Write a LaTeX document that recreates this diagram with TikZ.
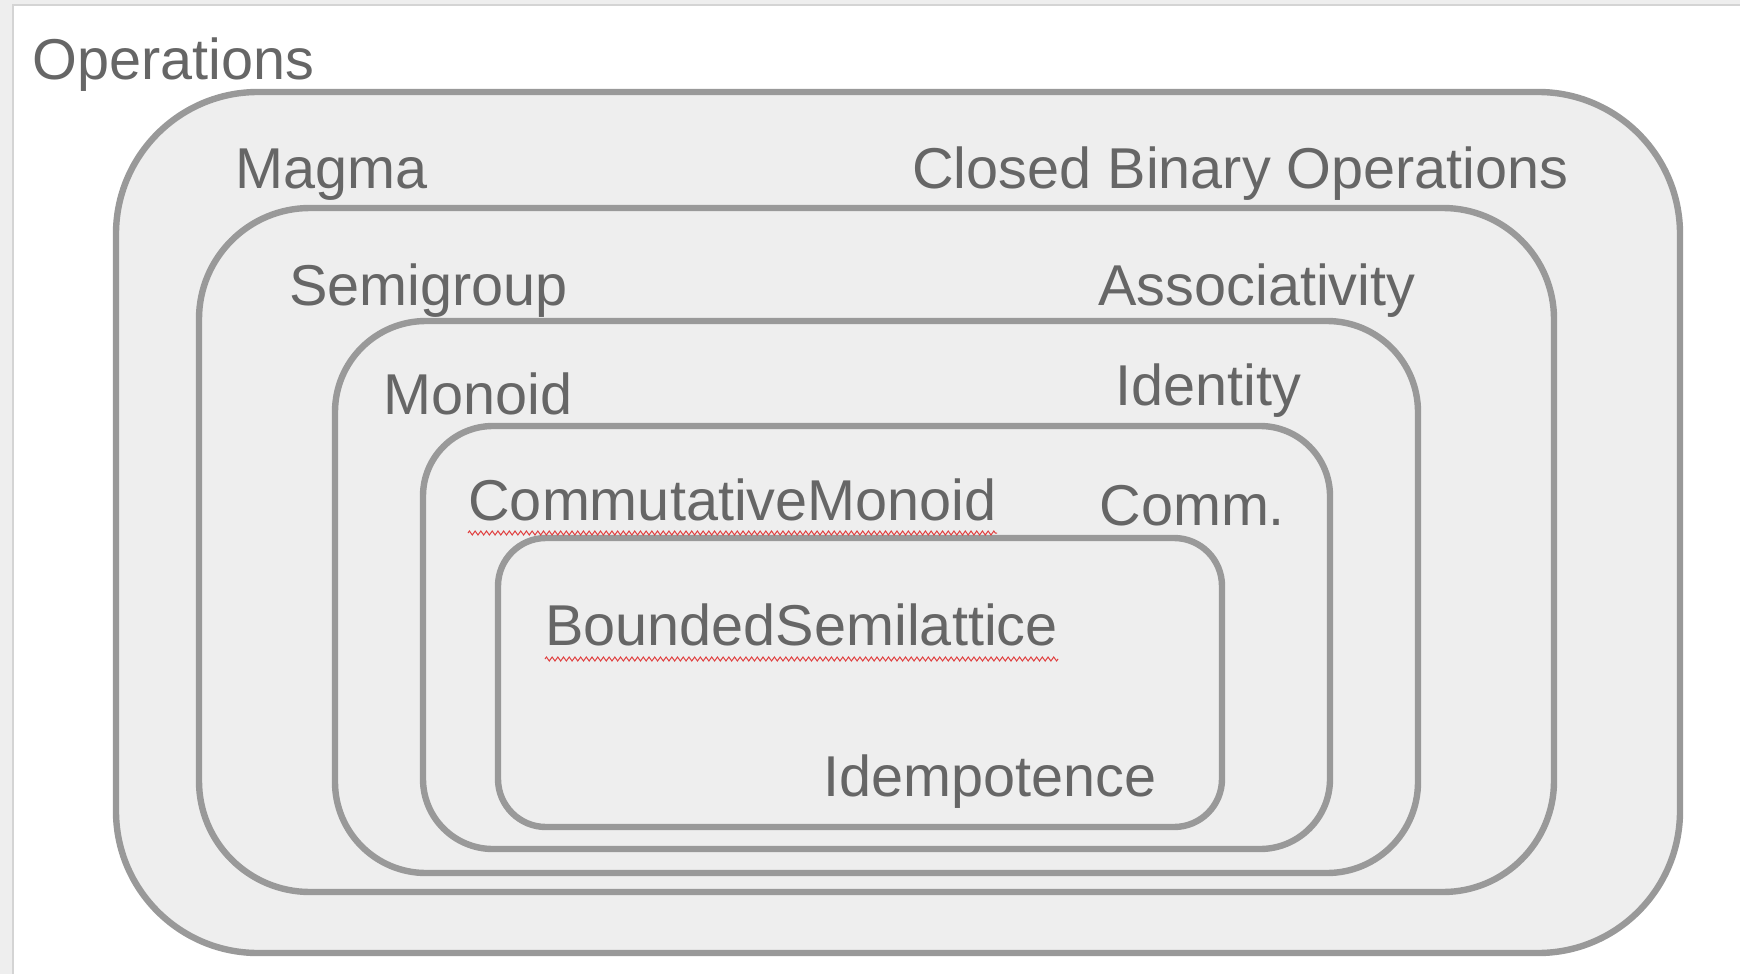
\documentclass[tikz,border=0pt]{standalone}
\usepackage{fontspec}
\setmainfont{Liberation Sans}
\usetikzlibrary{decorations.pathmorphing}
\definecolor{txt}{HTML}{666666}
\definecolor{edge}{HTML}{999999}
\definecolor{fillg}{HTML}{EEEEEE}
\definecolor{frameg}{HTML}{D4D4D4}
\definecolor{squig}{HTML}{E04040}
\begin{document}
\begin{tikzpicture}[x=0.5pt,y=-0.5pt,
  setbox/.style={draw=edge, fill=fillg, line width=3.2pt},
  lbl/.style={anchor=base west, inner sep=0pt, text=txt, font=\fontsize{28.8pt}{34pt}\selectfont},
  squiggle/.style={draw=squig, line width=0.5pt, decorate, decoration={zigzag, segment length=2.85pt, amplitude=1pt}}]
\useasboundingbox (0,0) rectangle (1740,974);
\fill[fillg] (0,0) rectangle (1740,974);
\draw[frameg, fill=white, line width=1pt] (13,5) rectangle (1760,990);
% nested sets
\draw[setbox, rounded corners=71pt] (116,92) rectangle (1680,953);
\draw[setbox, rounded corners=55.5pt] (199,208) rectangle (1554,892);
\draw[setbox, rounded corners=45.5pt] (335,321) rectangle (1418,873);
\draw[setbox, rounded corners=35pt] (423,426) rectangle (1330,849);
\draw[setbox, rounded corners=24pt] (498,538) rectangle (1222,827);
% labels
\node[lbl] (ops) at (32,80) {Operations};
\node[lbl] (magma) at (235,188) {Magma};
\node[lbl] (cbo) at (912,188) {Closed Binary Operations};
\node[lbl] (semi) at (289,305) {Semigroup};
\node[lbl] (assoc) at (1098,305) {Associativity};
\node[lbl] (mon) at (383,414) {Monoid};
\node[lbl] (ident) at (1115,405) {Identity};
\node[lbl] (cm) at (468,520) {CommutativeMonoid};
\node[lbl] (comm) at (1099,525) {Comm.};
\node[lbl] (bs) at (545,645) {BoundedSemilattice};
\node[lbl] (idem) at (823,796) {Idempotence};
% spell-check underlines
\draw[squiggle] ([yshift=-6.5pt]cm.base west) -- ([yshift=-6.5pt]cm.base east);
\draw[squiggle] ([yshift=-7pt]bs.base west) -- ([yshift=-7pt]bs.base east);
\end{tikzpicture}
\end{document}
